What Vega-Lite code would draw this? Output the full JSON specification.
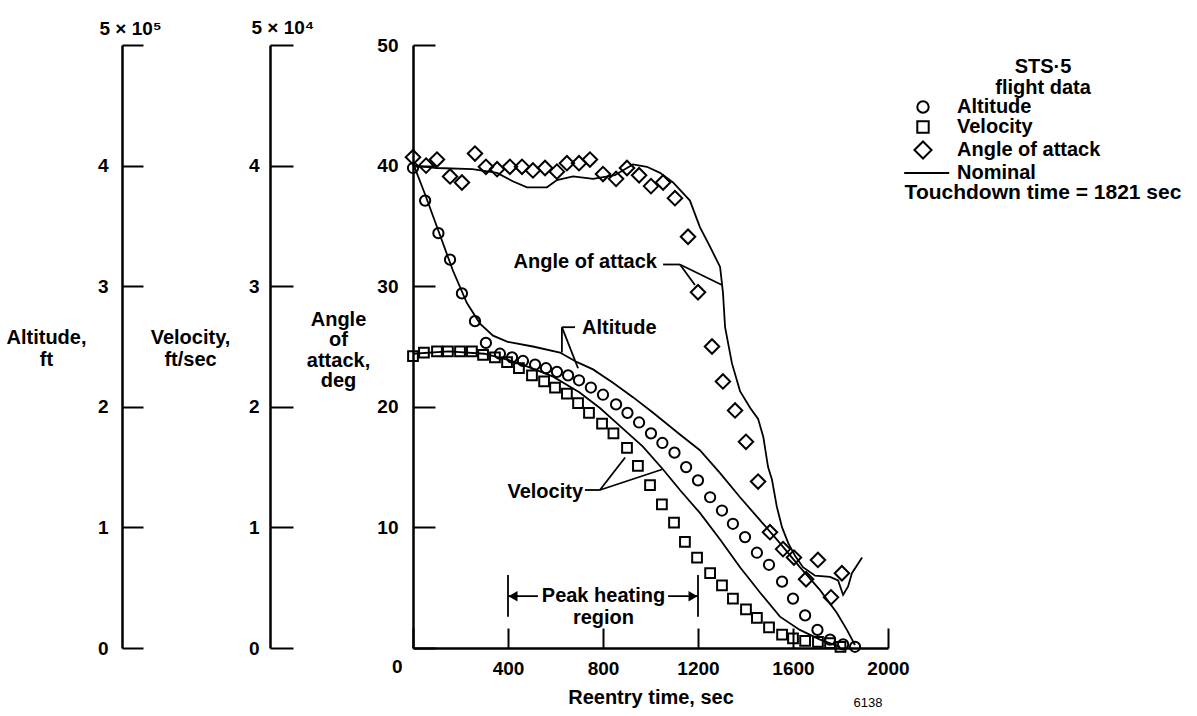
{
  "$schema": "https://vega.github.io/schema/vega-lite/v6.json",
  "width": 475,
  "height": 603,
  "autosize": {"type": "none"},
  "padding": {"left": 413, "top": 45, "right": 309, "bottom": 68},
  "background": "white",
  "config": {
    "view": {"stroke": null},
    "font": "Liberation Sans",
    "axis": {
      "domainColor": "black", "domainWidth": 2.5, "tickColor": "black", "tickWidth": 2,
      "labelFont": "Liberation Sans", "labelFontSize": 19, "labelFontWeight": "bold", "labelColor": "black",
      "titleFont": "Liberation Sans", "titleFontSize": 20, "titleFontWeight": "bold", "titleColor": "black",
      "grid": false, "labelOverlap": false, "labelFlush": false, "labelBound": false
    },
    "text": {"font": "Liberation Sans", "fontSize": 20, "fontWeight": "bold", "color": "black"}
  },
  "title": {
    "text": ["STS·5", "flight data"],
    "subtitle": "Touchdown time = 1821 sec",
    "anchor": "start", "frame": "group", "align": "center",
    "dx": 630, "dy": 185, "offset": 0,
    "font": "Liberation Sans", "fontSize": 20, "fontWeight": "bold", "color": "black", "lineHeight": 21,
    "subtitleFont": "Liberation Sans", "subtitleFontSize": 21, "subtitleFontWeight": "bold", "subtitleColor": "black",
    "subtitlePadding": 84
  },
  "datasets": {
    "altitude_flight": [
      {"t": 0, "altitude_ft": 398000}, {"t": 51, "altitude_ft": 371000}, {"t": 107, "altitude_ft": 344000},
      {"t": 156, "altitude_ft": 322000}, {"t": 206, "altitude_ft": 294000}, {"t": 261, "altitude_ft": 271000},
      {"t": 307, "altitude_ft": 253000}, {"t": 366, "altitude_ft": 244000}, {"t": 417, "altitude_ft": 241000},
      {"t": 463, "altitude_ft": 238000}, {"t": 514, "altitude_ft": 235000}, {"t": 560, "altitude_ft": 232000},
      {"t": 606, "altitude_ft": 229000}, {"t": 653, "altitude_ft": 226000}, {"t": 699, "altitude_ft": 222000},
      {"t": 749, "altitude_ft": 216000}, {"t": 800, "altitude_ft": 210000}, {"t": 855, "altitude_ft": 202000},
      {"t": 903, "altitude_ft": 195000}, {"t": 952, "altitude_ft": 187000}, {"t": 1002, "altitude_ft": 178000},
      {"t": 1050, "altitude_ft": 170000}, {"t": 1101, "altitude_ft": 162000}, {"t": 1150, "altitude_ft": 150000},
      {"t": 1200, "altitude_ft": 139000}, {"t": 1251, "altitude_ft": 125000}, {"t": 1301, "altitude_ft": 114000},
      {"t": 1347, "altitude_ft": 103000}, {"t": 1398, "altitude_ft": 92000}, {"t": 1448, "altitude_ft": 79000},
      {"t": 1499, "altitude_ft": 69000}, {"t": 1554, "altitude_ft": 55000}, {"t": 1600, "altitude_ft": 41000},
      {"t": 1651, "altitude_ft": 27000}, {"t": 1703, "altitude_ft": 15000}, {"t": 1756, "altitude_ft": 7000},
      {"t": 1811, "altitude_ft": 3000}, {"t": 1861, "altitude_ft": 1000}
    ],
    "altitude_nominal": [
      {"t": 0, "altitude_ft": 402000}, {"t": 51, "altitude_ft": 376000}, {"t": 105, "altitude_ft": 347000},
      {"t": 168, "altitude_ft": 313000}, {"t": 227, "altitude_ft": 286000}, {"t": 282, "altitude_ft": 269000},
      {"t": 337, "altitude_ft": 259000}, {"t": 396, "altitude_ft": 254000}, {"t": 505, "altitude_ft": 250000},
      {"t": 619, "altitude_ft": 245000}, {"t": 691, "altitude_ft": 237000}, {"t": 758, "altitude_ft": 231000},
      {"t": 842, "altitude_ft": 220000}, {"t": 926, "altitude_ft": 208000}, {"t": 1011, "altitude_ft": 195000},
      {"t": 1124, "altitude_ft": 177000}, {"t": 1208, "altitude_ft": 164000}, {"t": 1293, "altitude_ft": 145000},
      {"t": 1377, "altitude_ft": 125000}, {"t": 1461, "altitude_ft": 106000}, {"t": 1545, "altitude_ft": 87000},
      {"t": 1629, "altitude_ft": 67000}, {"t": 1714, "altitude_ft": 48000}, {"t": 1785, "altitude_ft": 29000},
      {"t": 1827, "altitude_ft": 15000}, {"t": 1861, "altitude_ft": 2500}
    ],
    "velocity_flight": [
      {"t": 0, "velocity_fps": 24200}, {"t": 46, "velocity_fps": 24500}, {"t": 101, "velocity_fps": 24600},
      {"t": 147, "velocity_fps": 24600}, {"t": 198, "velocity_fps": 24600}, {"t": 248, "velocity_fps": 24600},
      {"t": 295, "velocity_fps": 24300}, {"t": 345, "velocity_fps": 24100}, {"t": 396, "velocity_fps": 23700},
      {"t": 446, "velocity_fps": 23200}, {"t": 501, "velocity_fps": 22600}, {"t": 552, "velocity_fps": 22100},
      {"t": 598, "velocity_fps": 21600}, {"t": 648, "velocity_fps": 21100}, {"t": 695, "velocity_fps": 20300},
      {"t": 741, "velocity_fps": 19500}, {"t": 796, "velocity_fps": 18600}, {"t": 844, "velocity_fps": 17800},
      {"t": 901, "velocity_fps": 16600}, {"t": 947, "velocity_fps": 15100}, {"t": 998, "velocity_fps": 13500},
      {"t": 1048, "velocity_fps": 11900}, {"t": 1099, "velocity_fps": 10400}, {"t": 1145, "velocity_fps": 8800},
      {"t": 1196, "velocity_fps": 7500}, {"t": 1251, "velocity_fps": 6200}, {"t": 1301, "velocity_fps": 5200},
      {"t": 1347, "velocity_fps": 4100}, {"t": 1402, "velocity_fps": 3200}, {"t": 1448, "velocity_fps": 2500},
      {"t": 1499, "velocity_fps": 1700}, {"t": 1554, "velocity_fps": 1100}, {"t": 1600, "velocity_fps": 800},
      {"t": 1651, "velocity_fps": 600}, {"t": 1705, "velocity_fps": 500}, {"t": 1756, "velocity_fps": 400},
      {"t": 1800, "velocity_fps": 100}
    ],
    "velocity_nominal": [
      {"t": 0, "velocity_fps": 24400}, {"t": 150, "velocity_fps": 24600}, {"t": 300, "velocity_fps": 24400},
      {"t": 400, "velocity_fps": 23900}, {"t": 500, "velocity_fps": 23200}, {"t": 590, "velocity_fps": 22500},
      {"t": 700, "velocity_fps": 21200}, {"t": 787, "velocity_fps": 19900}, {"t": 872, "velocity_fps": 18400},
      {"t": 968, "velocity_fps": 16700}, {"t": 1053, "velocity_fps": 14800}, {"t": 1124, "velocity_fps": 13100},
      {"t": 1208, "velocity_fps": 11200}, {"t": 1293, "velocity_fps": 9000}, {"t": 1377, "velocity_fps": 6700},
      {"t": 1461, "velocity_fps": 4600}, {"t": 1545, "velocity_fps": 2600}, {"t": 1629, "velocity_fps": 1500},
      {"t": 1714, "velocity_fps": 700}, {"t": 1798, "velocity_fps": 100}
    ],
    "aoa_flight": [
      {"t": 0, "deg": 40.7}, {"t": 55, "deg": 40.0}, {"t": 101, "deg": 40.5}, {"t": 156, "deg": 39.1},
      {"t": 206, "deg": 38.6}, {"t": 261, "deg": 41.0}, {"t": 307, "deg": 39.9}, {"t": 354, "deg": 39.7},
      {"t": 408, "deg": 39.9}, {"t": 459, "deg": 39.9}, {"t": 505, "deg": 39.6}, {"t": 556, "deg": 39.8},
      {"t": 606, "deg": 39.5}, {"t": 648, "deg": 40.2}, {"t": 699, "deg": 40.2}, {"t": 745, "deg": 40.5},
      {"t": 800, "deg": 39.3}, {"t": 855, "deg": 38.9}, {"t": 901, "deg": 39.8}, {"t": 952, "deg": 39.2},
      {"t": 1002, "deg": 38.3}, {"t": 1053, "deg": 38.6}, {"t": 1103, "deg": 37.3}, {"t": 1158, "deg": 34.1},
      {"t": 1200, "deg": 29.5}, {"t": 1259, "deg": 25.0}, {"t": 1305, "deg": 22.1}, {"t": 1356, "deg": 19.7},
      {"t": 1402, "deg": 17.1}, {"t": 1453, "deg": 13.8}, {"t": 1503, "deg": 9.6}, {"t": 1558, "deg": 8.2},
      {"t": 1604, "deg": 7.5}, {"t": 1655, "deg": 5.7}, {"t": 1705, "deg": 7.3}, {"t": 1760, "deg": 4.2},
      {"t": 1806, "deg": 6.2}
    ],
    "aoa_nominal": [
      {"t": 0, "deg": 40.0}, {"t": 100, "deg": 39.8}, {"t": 250, "deg": 39.7}, {"t": 354, "deg": 39.4},
      {"t": 420, "deg": 38.7}, {"t": 480, "deg": 38.2}, {"t": 564, "deg": 38.2}, {"t": 606, "deg": 38.8},
      {"t": 674, "deg": 39.1}, {"t": 758, "deg": 38.9}, {"t": 850, "deg": 39.2}, {"t": 926, "deg": 40.1},
      {"t": 985, "deg": 39.9}, {"t": 1040, "deg": 39.4}, {"t": 1095, "deg": 38.6}, {"t": 1166, "deg": 37.1},
      {"t": 1208, "deg": 34.9}, {"t": 1250, "deg": 33.3}, {"t": 1293, "deg": 31.6}, {"t": 1305, "deg": 29.5},
      {"t": 1314, "deg": 26.6}, {"t": 1343, "deg": 23.6}, {"t": 1377, "deg": 21.3}, {"t": 1420, "deg": 19.9},
      {"t": 1453, "deg": 19.0}, {"t": 1475, "deg": 17.5}, {"t": 1495, "deg": 15.0}, {"t": 1511, "deg": 14.0},
      {"t": 1532, "deg": 11.7}, {"t": 1554, "deg": 10.0}, {"t": 1580, "deg": 8.7}, {"t": 1610, "deg": 7.6},
      {"t": 1642, "deg": 6.7}, {"t": 1693, "deg": 6.0}, {"t": 1756, "deg": 5.9}, {"t": 1790, "deg": 5.6},
      {"t": 1811, "deg": 4.4}, {"t": 1832, "deg": 5.1}, {"t": 1848, "deg": 6.2}, {"t": 1891, "deg": 7.5}
    ],
    "labels_right": [
      {"label": "Angle of attack", "t": 1027, "deg": 32.0},
      {"label": "Velocity", "t": 716, "deg": 12.9}
    ],
    "labels_left": [
      {"label": "Altitude", "t": 712, "deg": 26.5}
    ],
    "labels_center": [
      {"label": "Peak heating\nregion", "t": 802, "deg": 4.3}
    ],
    "leaders": [
      {"t": 1053, "deg": 31.8, "t2": 1124, "deg2": 31.8},
      {"t": 1124, "deg": 31.8, "t2": 1301, "deg2": 30.1},
      {"t": 1124, "deg": 31.8, "t2": 1187, "deg2": 30.1},
      {"t": 627, "deg": 26.6, "t2": 682, "deg2": 26.6},
      {"t": 627, "deg": 26.6, "t2": 627, "deg2": 24.5},
      {"t": 627, "deg": 26.6, "t2": 695, "deg2": 23.2},
      {"t": 724, "deg": 13.1, "t2": 787, "deg2": 13.1},
      {"t": 787, "deg": 13.1, "t2": 893, "deg2": 15.8},
      {"t": 787, "deg": 13.1, "t2": 1048, "deg2": 14.8},
      {"t": 400, "deg": 2.6, "t2": 400, "deg2": 6.05},
      {"t": 1200, "deg": 2.6, "t2": 1200, "deg2": 6.05},
      {"t": 400, "deg": 4.3, "t2": 526, "deg2": 4.3},
      {"t": 1074, "deg": 4.3, "t2": 1200, "deg2": 4.3}
    ],
    "arrow_left": [{"t": 421, "deg": 4.3}],
    "arrow_right": [{"t": 1179, "deg": 4.3}],
    "figure_id": [{"label": "6138", "t": 1916, "deg": -4.56}]
  },
  "encoding": {
    "x": {
      "field": "t", "type": "quantitative",
      "scale": {"domain": [0, 2000], "nice": false, "zero": false},
      "axis": {
        "values": [0, 400, 800, 1200, 1600, 2000], "tickSize": -20, "labelPadding": 31,
        "labelBaseline": "top", "labelExpr": "datum.value === 0 ? '' : format(datum.value, 'd')",
        "title": "Reentry time, sec", "titleX": 237.5, "titleY": 39, "titleAlign": "center", "titleBaseline": "top"
      }
    }
  },
  "layer": [
    {
      "data": {"name": "altitude_nominal"},
      "mark": {"type": "line", "color": "black", "strokeWidth": 1.8},
      "encoding": {
        "y": {
          "field": "altitude_ft", "type": "quantitative",
          "scale": {"domain": [0, 500000], "nice": false, "zero": false},
          "axis": {
            "orient": "left", "offset": 291, "values": [0, 100000, 200000, 300000, 400000, 500000],
            "tickSize": -21, "labelPadding": 35,
            "labelExpr": "datum.value === 500000 ? '' : format(datum.value / 100000, 'd')",
            "title": ["Altitude,", "ft"], "titleAngle": 0, "titleAlign": "center", "titleBaseline": "top",
            "titleX": -76, "titleY": 282, "titleLineHeight": 22
          }
        }
      }
    },
    {
      "data": {"name": "altitude_flight"},
      "mark": {"type": "point", "filled": false, "color": "black", "size": 105, "strokeWidth": 2, "opacity": 1},
      "encoding": {
        "y": {
          "field": "altitude_ft", "type": "quantitative",
          "scale": {"domain": [0, 500000], "nice": false, "zero": false},
          "axis": {
            "orient": "left", "offset": 291, "values": [500000], "domain": false, "ticks": false,
            "labelExpr": "'5 × 10⁵'", "labelAlign": "left", "labelPadding": 23, "labelOffset": -17, "title": null
          }
        },
        "shape": {
          "datum": "Altitude", "type": "nominal",
          "scale": {"domain": ["Altitude", "Velocity", "Angle of attack", "Nominal"], "range": ["circle", "square", "M-1.5,0L0,-1.5L1.5,0L0,1.5Z", "M-3.3,0L4.6,0"]},
          "legend": {
            "orient": "none", "legendX": 500, "legendY": 52, "title": null, "padding": 0,
            "symbolSize": 130, "symbolStrokeWidth": 2, "symbolStrokeColor": "black", "symbolFillColor": "transparent",
            "labelFont": "Liberation Sans", "labelFontSize": 20, "labelFontWeight": "bold", "labelColor": "black",
            "labelOffset": 24, "rowPadding": 0, "labelLimit": 300
          }
        }
      }
    },
    {
      "data": {"name": "velocity_nominal"},
      "mark": {"type": "line", "color": "black", "strokeWidth": 1.8},
      "encoding": {
        "y": {
          "field": "velocity_fps", "type": "quantitative",
          "scale": {"domain": [0, 50000], "nice": false, "zero": false},
          "axis": {
            "orient": "left", "offset": 143, "values": [0, 10000, 20000, 30000, 40000, 50000],
            "tickSize": -23, "labelPadding": 34,
            "labelExpr": "datum.value === 50000 ? '' : format(datum.value / 10000, 'd')",
            "title": ["Velocity,", "ft/sec"], "titleAngle": 0, "titleAlign": "center", "titleBaseline": "top",
            "titleX": -80, "titleY": 282, "titleLineHeight": 22
          }
        }
      }
    },
    {
      "data": {"name": "velocity_flight"},
      "mark": {"type": "point", "filled": false, "color": "black", "size": 95, "strokeWidth": 2, "opacity": 1},
      "encoding": {
        "y": {
          "field": "velocity_fps", "type": "quantitative",
          "scale": {"domain": [0, 50000], "nice": false, "zero": false},
          "axis": {
            "orient": "left", "offset": 143, "values": [50000], "domain": false, "ticks": false,
            "labelExpr": "'5 × 10⁴'", "labelAlign": "left", "labelPadding": 19, "labelOffset": -18, "title": null
          }
        },
        "shape": {
          "datum": "Velocity", "type": "nominal",
          "scale": {"domain": ["Altitude", "Velocity", "Angle of attack", "Nominal"], "range": ["circle", "square", "M-1.5,0L0,-1.5L1.5,0L0,1.5Z", "M-3.3,0L4.6,0"]}
        }
      }
    },
    {
      "encoding": {
        "y": {
          "field": "deg", "type": "quantitative",
          "scale": {"domain": [0, 50], "nice": false, "zero": false},
          "axis": {
            "orient": "left", "values": [0, 10, 20, 30, 40, 50], "tickSize": -22, "labelPadding": 37,
            "labelExpr": "datum.value === 0 ? '' : datum.label",
            "title": ["Angle", "of", "attack,", "deg"], "titleAngle": 0, "titleAlign": "center", "titleBaseline": "top",
            "titleX": -75, "titleY": 264, "titleLineHeight": 20.5
          }
        }
      },
      "layer": [
        {
          "data": {"name": "aoa_nominal"},
          "mark": {"type": "line", "color": "black", "strokeWidth": 1.8},
          "encoding": {}
        },
        {
          "data": {"name": "leaders"},
          "mark": {"type": "rule", "color": "black", "strokeWidth": 1.8},
          "encoding": {
            "x2": {"field": "t2"},
            "y2": {"field": "deg2"}
          }
        },
        {
          "data": {"name": "arrow_left"},
          "mark": {"type": "point", "shape": "triangle-left", "filled": true, "color": "black", "size": 110, "opacity": 1},
          "encoding": {}
        },
        {
          "data": {"name": "arrow_right"},
          "mark": {"type": "point", "shape": "triangle-right", "filled": true, "color": "black", "size": 110, "opacity": 1},
          "encoding": {}
        },
        {
          "data": {"name": "labels_right"},
          "mark": {"type": "text", "align": "right", "baseline": "middle"},
          "encoding": {"text": {"field": "label"}}
        },
        {
          "data": {"name": "labels_left"},
          "mark": {"type": "text", "align": "left", "baseline": "middle"},
          "encoding": {"text": {"field": "label"}}
        },
        {
          "data": {"name": "labels_center"},
          "mark": {"type": "text", "align": "center", "baseline": "middle", "lineBreak": "\n", "lineHeight": 22},
          "encoding": {"text": {"field": "label"}}
        },
        {
          "data": {"name": "figure_id"},
          "mark": {"type": "text", "align": "center", "baseline": "middle", "fontSize": 13, "fontWeight": "normal"},
          "encoding": {"text": {"field": "label"}}
        }
      ]
    },
    {
      "data": {"name": "aoa_flight"},
      "mark": {"type": "point", "filled": false, "color": "black", "size": 93, "strokeWidth": 2, "opacity": 1},
      "encoding": {
        "y": {
          "field": "deg", "type": "quantitative",
          "scale": {"domain": [0, 50], "nice": false, "zero": false},
          "axis": {
            "orient": "left", "values": [0], "domain": false, "ticks": false,
            "labelExpr": "'0'", "labelAlign": "right", "labelPadding": 11, "labelOffset": 18, "title": null
          }
        },
        "shape": {
          "datum": "Angle of attack", "type": "nominal",
          "scale": {"domain": ["Altitude", "Velocity", "Angle of attack", "Nominal"], "range": ["circle", "square", "M-1.5,0L0,-1.5L1.5,0L0,1.5Z", "M-3.3,0L4.6,0"]}
        }
      }
    }
  ],
  "resolve": {"scale": {"y": "independent"}}
}
